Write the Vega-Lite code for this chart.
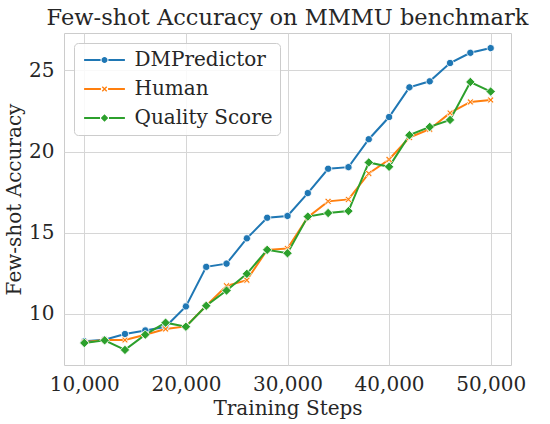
{
  "$schema": "https://vega.github.io/schema/vega-lite/v6.json",
  "width": 447,
  "height": 332,
  "autosize": {"type": "none"},
  "padding": {"left": 64, "top": 33, "right": 39, "bottom": 59},
  "background": "white",
  "title": {
    "text": "Few-shot Accuracy on MMMU benchmark",
    "font": "DejaVu Serif",
    "fontSize": 22.5,
    "fontWeight": "normal",
    "color": "#262626",
    "anchor": "middle",
    "offset": 4
  },
  "config": {
    "view": {"stroke": "#cccccc", "strokeWidth": 1},
    "axis": {
      "labelFont": "DejaVu Serif",
      "labelFontSize": 20,
      "labelColor": "#262626",
      "titleFont": "DejaVu Serif",
      "titleFontSize": 20,
      "titleFontWeight": "normal",
      "titleColor": "#262626",
      "grid": true,
      "gridColor": "#d6d6d6",
      "gridWidth": 1,
      "ticks": false,
      "domain": false,
      "labelOverlap": false,
      "labelFlush": false
    },
    "legend": {
      "labelFont": "DejaVu Serif",
      "labelFontSize": 20,
      "labelColor": "#262626"
    }
  },
  "data": {
    "values": [
      {"step": 10000, "series": "DMPredictor", "acc": 8.30},
      {"step": 12000, "series": "DMPredictor", "acc": 8.40},
      {"step": 14000, "series": "DMPredictor", "acc": 8.75},
      {"step": 16000, "series": "DMPredictor", "acc": 8.97},
      {"step": 18000, "series": "DMPredictor", "acc": 9.20},
      {"step": 20000, "series": "DMPredictor", "acc": 10.45},
      {"step": 22000, "series": "DMPredictor", "acc": 12.89},
      {"step": 24000, "series": "DMPredictor", "acc": 13.09},
      {"step": 26000, "series": "DMPredictor", "acc": 14.65},
      {"step": 28000, "series": "DMPredictor", "acc": 15.92},
      {"step": 30000, "series": "DMPredictor", "acc": 16.03},
      {"step": 32000, "series": "DMPredictor", "acc": 17.44},
      {"step": 34000, "series": "DMPredictor", "acc": 18.94},
      {"step": 36000, "series": "DMPredictor", "acc": 19.04},
      {"step": 38000, "series": "DMPredictor", "acc": 20.76},
      {"step": 40000, "series": "DMPredictor", "acc": 22.13},
      {"step": 42000, "series": "DMPredictor", "acc": 23.96},
      {"step": 44000, "series": "DMPredictor", "acc": 24.33},
      {"step": 46000, "series": "DMPredictor", "acc": 25.46},
      {"step": 48000, "series": "DMPredictor", "acc": 26.09},
      {"step": 50000, "series": "DMPredictor", "acc": 26.38},
      {"step": 10000, "series": "Human", "acc": 8.24},
      {"step": 12000, "series": "Human", "acc": 8.38},
      {"step": 14000, "series": "Human", "acc": 8.38},
      {"step": 16000, "series": "Human", "acc": 8.71},
      {"step": 18000, "series": "Human", "acc": 9.06},
      {"step": 20000, "series": "Human", "acc": 9.22},
      {"step": 22000, "series": "Human", "acc": 10.49},
      {"step": 24000, "series": "Human", "acc": 11.72},
      {"step": 26000, "series": "Human", "acc": 12.07},
      {"step": 28000, "series": "Human", "acc": 13.94},
      {"step": 30000, "series": "Human", "acc": 14.02},
      {"step": 32000, "series": "Human", "acc": 15.95},
      {"step": 34000, "series": "Human", "acc": 16.93},
      {"step": 36000, "series": "Human", "acc": 17.05},
      {"step": 38000, "series": "Human", "acc": 18.65},
      {"step": 40000, "series": "Human", "acc": 19.51},
      {"step": 42000, "series": "Human", "acc": 20.87},
      {"step": 44000, "series": "Human", "acc": 21.38},
      {"step": 46000, "series": "Human", "acc": 22.38},
      {"step": 48000, "series": "Human", "acc": 23.06},
      {"step": 50000, "series": "Human", "acc": 23.18},
      {"step": 10000, "series": "Quality Score", "acc": 8.20},
      {"step": 12000, "series": "Quality Score", "acc": 8.36},
      {"step": 14000, "series": "Quality Score", "acc": 7.77},
      {"step": 16000, "series": "Quality Score", "acc": 8.71},
      {"step": 18000, "series": "Quality Score", "acc": 9.45},
      {"step": 20000, "series": "Quality Score", "acc": 9.20},
      {"step": 22000, "series": "Quality Score", "acc": 10.49},
      {"step": 24000, "series": "Quality Score", "acc": 11.43},
      {"step": 26000, "series": "Quality Score", "acc": 12.46},
      {"step": 28000, "series": "Quality Score", "acc": 13.94},
      {"step": 30000, "series": "Quality Score", "acc": 13.73},
      {"step": 32000, "series": "Quality Score", "acc": 15.99},
      {"step": 34000, "series": "Quality Score", "acc": 16.21},
      {"step": 36000, "series": "Quality Score", "acc": 16.33},
      {"step": 38000, "series": "Quality Score", "acc": 19.33},
      {"step": 40000, "series": "Quality Score", "acc": 19.06},
      {"step": 42000, "series": "Quality Score", "acc": 21.01},
      {"step": 44000, "series": "Quality Score", "acc": 21.52},
      {"step": 46000, "series": "Quality Score", "acc": 21.95},
      {"step": 48000, "series": "Quality Score", "acc": 24.29},
      {"step": 50000, "series": "Quality Score", "acc": 23.70}
    ]
  },
  "encoding": {
    "x": {
      "field": "step",
      "type": "quantitative",
      "scale": {"domain": [8000, 52000], "nice": false, "zero": false},
      "axis": {
        "values": [10000, 20000, 30000, 40000, 50000],
        "format": ",.0f",
        "title": "Training Steps",
        "labelPadding": 9,
        "titlePadding": 4
      }
    },
    "y": {
      "field": "acc",
      "type": "quantitative",
      "scale": {"domain": [6.84, 27.31], "nice": false, "zero": false},
      "axis": {
        "values": [10, 15, 20, 25],
        "title": "Few-shot Accuracy",
        "labelPadding": 10,
        "titlePadding": 4
      }
    }
  },
  "layer": [
    {
      "mark": {"type": "line", "strokeWidth": 2},
      "encoding": {
        "color": {
          "field": "series",
          "type": "nominal",
          "scale": {"domain": ["DMPredictor", "Human", "Quality Score"], "range": ["#1f77b4", "#ff7f0e", "#2ca02c"]},
          "legend": null
        }
      }
    },
    {
      "mark": {"type": "point", "filled": true, "opacity": 1, "size": 52, "stroke": "white", "strokeWidth": 0.8},
      "encoding": {
        "color": {
          "field": "series",
          "type": "nominal",
          "scale": {"domain": ["DMPredictor", "Human", "Quality Score"], "range": ["#1f77b4", "#ff7f0e", "#2ca02c"]},
          "legend": null
        },
        "shape": {
          "field": "series",
          "type": "nominal",
          "scale": {
            "domain": ["DMPredictor", "Human", "Quality Score"],
            "range": [
              "M1,0A1,1 0 1,1 -1,0A1,1 0 1,1 1,0Z",
              "M-0.9,-0.55L-0.55,-0.9L0,-0.35L0.55,-0.9L0.9,-0.55L0.35,0L0.9,0.55L0.55,0.9L0,0.35L-0.55,0.9L-0.9,0.55L-0.35,0Z",
              "M0,-1.3L1.3,0L0,1.3L-1.3,0Z"
            ]
          },
          "legend": null
        }
      }
    },
    {
      "mark": {"type": "point", "filled": true, "opacity": 0, "size": 36, "strokeWidth": 0},
      "encoding": {
        "color": {
          "field": "series",
          "type": "nominal",
          "scale": {"domain": ["DMPredictor", "Human", "Quality Score"], "range": ["#1f77b4", "#ff7f0e", "#2ca02c"]},
          "legend": {
            "title": null,
            "orient": "top-left",
            "offset": 10,
            "padding": 7,
            "strokeColor": "#cccccc",
            "fillColor": "rgba(255,255,255,0.85)",
            "cornerRadius": 4,
            "symbolSize": 36,
            "symbolOpacity": 1,
            "symbolStrokeWidth": 0,
            "symbolOffset": 13.5,
            "labelOffset": 20,
            "rowPadding": 9
          }
        },
        "shape": {
          "field": "series",
          "type": "nominal",
          "scale": {
            "domain": ["DMPredictor", "Human", "Quality Score"],
            "range": [
              "M-6.8,-0.33H-1.3V0.33H-6.8Z M1.3,-0.33H6.8V0.33H1.3Z M1,0A1,1 0 1,1 -1,0A1,1 0 1,1 1,0Z",
              "M-6.8,-0.33H-1.2V0.33H-6.8Z M1.2,-0.33H6.8V0.33H1.2Z M-0.9,-0.6L-0.6,-0.9L0,-0.3L0.6,-0.9L0.9,-0.6L0.3,0L0.9,0.6L0.6,0.9L0,0.3L-0.6,0.9L-0.9,0.6L-0.3,0Z",
              "M-6.8,-0.33H-1.5V0.33H-6.8Z M1.5,-0.33H6.8V0.33H1.5Z M0,-1.25L1.25,0L0,1.25L-1.25,0Z"
            ]
          },
          "legend": {
            "title": null,
            "orient": "top-left",
            "offset": 10,
            "padding": 7,
            "strokeColor": "#cccccc",
            "fillColor": "rgba(255,255,255,0.85)",
            "cornerRadius": 4,
            "symbolSize": 36,
            "symbolOpacity": 1,
            "symbolStrokeWidth": 0,
            "symbolOffset": 13.5,
            "labelOffset": 20,
            "rowPadding": 9
          }
        }
      }
    }
  ],
  "resolve": {
    "scale": {"color": "independent", "shape": "independent"},
    "legend": {"color": "independent", "shape": "independent"}
  }
}
